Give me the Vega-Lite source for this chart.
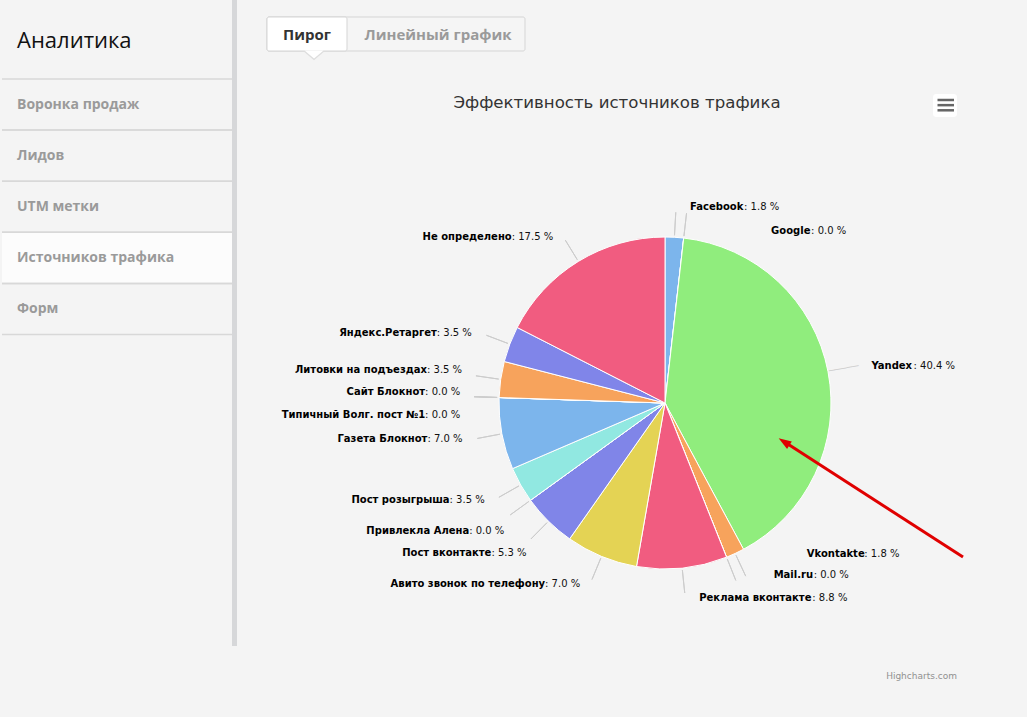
{
  "$schema": "https://vega.github.io/schema/vega-lite/v6.json",
  "background": "#f4f4f4",
  "padding": 0,
  "spacing": 0,
  "bounds": "flush",
  "resolve": {"scale": {"color": "independent"}},
  "config": {"view": {"stroke": null}, "concat": {"spacing": 0}, "font": "DejaVu Sans"},
  "hconcat": [
    {
      "width": 303,
      "height": 717,
      "layer": [
        {"data": {"values": [{"part": "bar"}]}, "mark": {"type": "rect", "color": "#d6d7d9"}, "encoding": {"x": {"value": 232}, "x2": {"value": 237}, "y": {"value": 0}, "y2": {"value": 646}}},
        {"data": {"values": [{"title": "Аналитика"}]}, "mark": {"type": "text", "align": "left", "baseline": "alphabetic", "font": "Open Sans", "fontSize": 22, "color": "#111111"}, "encoding": {"x": {"value": 17}, "y": {"value": 48}, "text": {"field": "title"}}},
        {
          "data": {"values": [{"item": "Воронка продаж"}, {"item": "Лидов"}, {"item": "UTM метки"}, {"item": "Источников трафика"}, {"item": "Форм"}]},
          "encoding": {"y": {"field": "item", "type": "nominal", "sort": null, "axis": null, "scale": {"range": [79, 334.5], "paddingInner": 0, "paddingOuter": 0}}},
          "layer": [
            {"mark": {"type": "rect", "color": "#fcfcfc", "opacity": {"expr": "datum.item === 'Источников трафика' ? 1 : 0"}}, "encoding": {"x": {"value": 2}, "x2": {"value": 232}}},
            {"mark": {"type": "rule", "color": "#d8d8d8", "strokeWidth": 1.5}, "encoding": {"x": {"value": 2}, "x2": {"value": 232}, "y": {"field": "item", "type": "nominal", "sort": null, "bandPosition": 0}}},
            {"mark": {"type": "rule", "color": "#d8d8d8", "strokeWidth": 1.5}, "encoding": {"x": {"value": 2}, "x2": {"value": 232}, "y": {"field": "item", "type": "nominal", "sort": null, "bandPosition": 1}}},
            {"mark": {"type": "text", "align": "left", "baseline": "middle", "font": "Open Sans", "fontSize": 14, "fontWeight": "bold", "color": "#9a9a9a"}, "encoding": {"x": {"value": 17}, "text": {"field": "item"}}}
          ]
        }
      ]
    },
    {
      "resolve": {"scale": {"color": "independent"}},
      "vconcat": [
        {
          "width": 724,
          "height": 120,
          "layer": [
            {"data": {"values": [{"tab": "Линейный график"}]}, "mark": {"type": "rect", "fill": "#f5f5f5", "stroke": "#d5d5d5", "strokeWidth": 1, "cornerRadius": 2}, "encoding": {"x": {"value": -36}, "x2": {"value": 222}, "y": {"value": 17}, "y2": {"value": 51}}},
            {"data": {"values": [{"tab": "Пирог"}]}, "mark": {"type": "rect", "fill": "#ffffff", "stroke": "#d5d5d5", "strokeWidth": 1, "cornerRadius": 2}, "encoding": {"x": {"value": -36}, "x2": {"value": 44}, "y": {"value": 17}, "y2": {"value": 51}}},
            {"data": {"values": [{"tab": "Пирог"}]}, "mark": {"type": "point", "shape": "M-1,-0.42L1,-0.42L0,0.42Z", "size": 400, "filled": true, "color": "#dedede", "opacity": 1}, "encoding": {"x": {"value": 11}, "y": {"value": 56}}},
            {"data": {"values": [{"tab": "Пирог"}]}, "mark": {"type": "point", "shape": "M-1,-0.42L1,-0.42L0,0.42Z", "size": 361, "filled": true, "color": "#ffffff", "opacity": 1}, "encoding": {"x": {"value": 11}, "y": {"value": 54.5}}},
            {"data": {"values": [{"tab": "Пирог"}, {"tab": "Линейный график"}]}, "mark": {"type": "text", "font": "Open Sans", "fontSize": 15, "fontWeight": "bold", "baseline": "middle", "align": "center", "color": {"expr": "datum.tab === 'Пирог' ? '#333333' : '#9a9a9a'"}}, "encoding": {"x": {"field": "tab", "type": "nominal", "axis": null, "scale": {"type": "point", "padding": 0, "domain": ["Пирог", "Линейный график"], "range": [4, 135]}}, "y": {"value": 35}, "text": {"field": "tab"}}},
            {"data": {"values": [{"title": "Эффективность источников трафика"}]}, "mark": {"type": "text", "font": "DejaVu Sans", "fontSize": 16.6, "color": "#333333", "align": "center", "baseline": "middle"}, "encoding": {"x": {"value": 314}, "y": {"value": 103}, "text": {"field": "title"}}},
            {"data": {"values": [{"button": "menu"}]}, "mark": {"type": "rect", "fill": "#ffffff", "cornerRadius": 3}, "encoding": {"x": {"value": 630}, "x2": {"value": 654}, "y": {"value": 94}, "y2": {"value": 117}}},
            {"data": {"values": [{"line": 1}, {"line": 2}, {"line": 3}]}, "mark": {"type": "rule", "color": "#666666", "strokeWidth": 2.5}, "encoding": {"x": {"value": 634.5}, "x2": {"value": 651}, "y": {"field": "line", "type": "ordinal", "axis": null, "scale": {"type": "point", "padding": 0, "range": [100, 110.3]}}}}
          ]
        },
        {
          "width": 724,
          "height": 566,
          "layer": [
            {
              "data": {"values": [
                {"name": "Facebook", "value": 1.8},
                {"name": "Google", "value": 0.0},
                {"name": "Yandex", "value": 40.4},
                {"name": "Vkontakte", "value": 1.8},
                {"name": "Mail.ru", "value": 0.0},
                {"name": "Реклама вконтакте", "value": 8.8},
                {"name": "Авито звонок по телефону", "value": 7.0},
                {"name": "Пост вконтакте", "value": 5.3},
                {"name": "Привлекла Алена", "value": 0.0},
                {"name": "Пост розыгрыша", "value": 3.5},
                {"name": "Газета Блокнот", "value": 7.0},
                {"name": "Типичный Волг. пост №1", "value": 0.0},
                {"name": "Сайт Блокнот", "value": 0.0},
                {"name": "Литовки на подъездах", "value": 3.5},
                {"name": "Яндекс.Ретаргет", "value": 3.5},
                {"name": "Не определено", "value": 17.5}
              ]},
              "transform": [{"window": [{"op": "row_number", "as": "i"}]}],
              "encoding": {
                "theta": {"field": "value", "type": "quantitative", "stack": true},
                "order": {"field": "i", "type": "quantitative"}
              },
              "layer": [
                {"mark": {"type": "arc", "outerRadius": 166, "stroke": "#ffffff", "strokeWidth": 1}, "encoding": {"color": {"field": "name", "type": "nominal", "legend": null, "scale": {"domain": ["Facebook", "Google", "Yandex", "Vkontakte", "Mail.ru", "Реклама вконтакте", "Авито звонок по телефону", "Пост вконтакте", "Привлекла Алена", "Пост розыгрыша", "Газета Блокнот", "Типичный Волг. пост №1", "Сайт Блокнот", "Литовки на подъездах", "Яндекс.Ретаргет", "Не определено"], "range": ["#7cb5ec", "#434348", "#90ed7d", "#f7a35c", "#8085e9", "#f15c80", "#e4d354", "#8085e8", "#8d4653", "#91e8e1", "#7cb5ec", "#434348", "#90ed7d", "#f7a35c", "#8085e9", "#f15c80"]}}}},
                {"mark": {"type": "arc", "outerRadius": 191, "innerRadius": 168, "padAngle": 0.934, "filled": false, "color": "#cccccc", "strokeWidth": 1, "strokeOpacity": {"expr": "datum.name === 'Yandex' ? 0 : 1"}}, "encoding": {"detail": {"field": "name"}}},
                {"mark": {"type": "text", "radius": 182, "angle": -10, "font": "DejaVu Sans", "fontSize": 10, "color": "#cccccc", "align": "center", "baseline": "middle", "text": {"expr": "datum.name === 'Yandex' ? '─────' : ''"}}, "encoding": {"detail": {"field": "name"}}},

                {"mark": {"type": "text", "radius": 196, "dx": 14, "dy": 0, "align": "left", "baseline": "middle", "font": "DejaVu Sans", "fontSize": 10, "fontWeight": "bold", "color": "#000000", "text": {"expr": "indexof(['Facebook','Yandex','Реклама вконтакте'], datum.name) >= 0 ? datum.name : ''"}}, "encoding": {"detail": {"field": "name"}}},
                {"mark": {"type": "text", "radius": 196, "dx": 68, "dy": 0, "align": "left", "baseline": "middle", "font": "DejaVu Sans", "fontSize": 10, "color": "#111111", "text": {"expr": "datum.name === 'Facebook' ? ': ' + format(datum.value, '.1f') + ' %' : ''"}}, "encoding": {"detail": {"field": "name"}}},
                {"mark": {"type": "text", "radius": 196, "dx": 56, "dy": 0, "align": "left", "baseline": "middle", "font": "DejaVu Sans", "fontSize": 10, "color": "#111111", "text": {"expr": "datum.name === 'Yandex' ? ': ' + format(datum.value, '.1f') + ' %' : ''"}}, "encoding": {"detail": {"field": "name"}}},
                {"mark": {"type": "text", "radius": 196, "dx": 127, "dy": 0, "align": "left", "baseline": "middle", "font": "DejaVu Sans", "fontSize": 10, "color": "#111111", "text": {"expr": "datum.name === 'Реклама вконтакте' ? ': ' + format(datum.value, '.1f') + ' %' : ''"}}, "encoding": {"detail": {"field": "name"}}},

                {"mark": {"type": "text", "radius": 196, "dx": 84, "dy": 23, "align": "left", "baseline": "middle", "font": "DejaVu Sans", "fontSize": 10, "fontWeight": "bold", "color": "#000000", "text": {"expr": "datum.name === 'Google' ? datum.name : ''"}}, "encoding": {"detail": {"field": "name"}}},
                {"mark": {"type": "text", "radius": 196, "dx": 124, "dy": 23, "align": "left", "baseline": "middle", "font": "DejaVu Sans", "fontSize": 10, "color": "#111111", "text": {"expr": "datum.name === 'Google' ? ': ' + format(datum.value, '.1f') + ' %' : ''"}}, "encoding": {"detail": {"field": "name"}}},

                {"mark": {"type": "text", "radius": 196, "dx": 59, "dy": -27, "align": "left", "baseline": "middle", "font": "DejaVu Sans", "fontSize": 10, "fontWeight": "bold", "color": "#000000", "text": {"expr": "datum.name === 'Vkontakte' ? datum.name : ''"}}, "encoding": {"detail": {"field": "name"}}},
                {"mark": {"type": "text", "radius": 196, "dx": 116.5, "dy": -27, "align": "left", "baseline": "middle", "font": "DejaVu Sans", "fontSize": 10, "color": "#111111", "text": {"expr": "datum.name === 'Vkontakte' ? ': ' + format(datum.value, '.1f') + ' %' : ''"}}, "encoding": {"detail": {"field": "name"}}},

                {"mark": {"type": "text", "radius": 196, "dx": 36, "dy": -10, "align": "left", "baseline": "middle", "font": "DejaVu Sans", "fontSize": 10, "fontWeight": "bold", "color": "#000000", "text": {"expr": "datum.name === 'Mail.ru' ? datum.name : ''"}}, "encoding": {"detail": {"field": "name"}}},
                {"mark": {"type": "text", "radius": 196, "dx": 76, "dy": -10, "align": "left", "baseline": "middle", "font": "DejaVu Sans", "fontSize": 10, "color": "#111111", "text": {"expr": "datum.name === 'Mail.ru' ? ': ' + format(datum.value, '.1f') + ' %' : ''"}}, "encoding": {"detail": {"field": "name"}}},

                {"mark": {"type": "text", "radius": 196, "dx": -45, "dy": 0, "align": "right", "baseline": "middle", "font": "DejaVu Sans", "fontSize": 10, "fontWeight": "bold", "color": "#000000", "text": {"expr": "indexof(['Авито звонок по телефону','Пост розыгрыша','Газета Блокнот','Яндекс.Ретаргет'], datum.name) >= 0 ? datum.name : ''"}}, "encoding": {"detail": {"field": "name"}}},
                {"mark": {"type": "text", "radius": 196, "dx": -45, "dy": 0, "align": "left", "baseline": "middle", "font": "DejaVu Sans", "fontSize": 10, "color": "#111111", "text": {"expr": "indexof(['Авито звонок по телефону','Пост розыгрыша','Газета Блокнот','Яндекс.Ретаргет'], datum.name) >= 0 ? ': ' + format(datum.value, '.1f') + ' %' : ''"}}, "encoding": {"detail": {"field": "name"}}},

                {"mark": {"type": "text", "radius": 196, "dx": -51, "dy": 1, "align": "right", "baseline": "middle", "font": "DejaVu Sans", "fontSize": 10, "fontWeight": "bold", "color": "#000000", "text": {"expr": "datum.name === 'Не определено' ? datum.name : ''"}}, "encoding": {"detail": {"field": "name"}}},
                {"mark": {"type": "text", "radius": 196, "dx": -51, "dy": 1, "align": "left", "baseline": "middle", "font": "DejaVu Sans", "fontSize": 10, "color": "#111111", "text": {"expr": "datum.name === 'Не определено' ? ': ' + format(datum.value, '.1f') + ' %' : ''"}}, "encoding": {"detail": {"field": "name"}}},

                {"mark": {"type": "text", "radius": 196, "dx": -36, "dy": 10, "align": "right", "baseline": "middle", "font": "DejaVu Sans", "fontSize": 10, "fontWeight": "bold", "color": "#000000", "text": {"expr": "datum.name === 'Пост вконтакте' ? datum.name : ''"}}, "encoding": {"detail": {"field": "name"}}},
                {"mark": {"type": "text", "radius": 196, "dx": -36, "dy": 10, "align": "left", "baseline": "middle", "font": "DejaVu Sans", "fontSize": 10, "color": "#111111", "text": {"expr": "datum.name === 'Пост вконтакте' ? ': ' + format(datum.value, '.1f') + ' %' : ''"}}, "encoding": {"detail": {"field": "name"}}},

                {"mark": {"type": "text", "radius": 196, "dx": -37, "dy": 13, "align": "right", "baseline": "middle", "font": "DejaVu Sans", "fontSize": 10, "fontWeight": "bold", "color": "#000000", "text": {"expr": "datum.name === 'Привлекла Алена' ? datum.name : ''"}}, "encoding": {"detail": {"field": "name"}}},
                {"mark": {"type": "text", "radius": 196, "dx": -37, "dy": 13, "align": "left", "baseline": "middle", "font": "DejaVu Sans", "fontSize": 10, "color": "#111111", "text": {"expr": "datum.name === 'Привлекла Алена' ? ': ' + format(datum.value, '.1f') + ' %' : ''"}}, "encoding": {"detail": {"field": "name"}}},

                {"mark": {"type": "text", "radius": 196, "dx": -44, "dy": 18, "align": "right", "baseline": "middle", "font": "DejaVu Sans", "fontSize": 10, "fontWeight": "bold", "color": "#000000", "text": {"expr": "datum.name === 'Типичный Волг. пост №1' ? datum.name : ''"}}, "encoding": {"detail": {"field": "name"}}},
                {"mark": {"type": "text", "radius": 196, "dx": -44, "dy": 18, "align": "left", "baseline": "middle", "font": "DejaVu Sans", "fontSize": 10, "color": "#111111", "text": {"expr": "datum.name === 'Типичный Волг. пост №1' ? ': ' + format(datum.value, '.1f') + ' %' : ''"}}, "encoding": {"detail": {"field": "name"}}},

                {"mark": {"type": "text", "radius": 196, "dx": -44, "dy": -5, "align": "right", "baseline": "middle", "font": "DejaVu Sans", "fontSize": 10, "fontWeight": "bold", "color": "#000000", "text": {"expr": "indexof(['Сайт Блокнот','Литовки на подъездах'], datum.name) >= 0 ? datum.name : ''"}}, "encoding": {"detail": {"field": "name"}}},
                {"mark": {"type": "text", "radius": 196, "dx": -44, "dy": -5, "align": "left", "baseline": "middle", "font": "DejaVu Sans", "fontSize": 10, "color": "#111111", "text": {"expr": "indexof(['Сайт Блокнот','Литовки на подъездах'], datum.name) >= 0 ? ': ' + format(datum.value, '.1f') + ' %' : ''"}}, "encoding": {"detail": {"field": "name"}}}
              ]
            },
            {"data": {"values": [{"credit": "Highcharts.com"}]}, "mark": {"type": "text", "align": "right", "baseline": "middle", "font": "DejaVu Sans", "fontSize": 9, "color": "#909090"}, "encoding": {"x": {"value": 654}, "y": {"value": 556}, "text": {"field": "credit"}}},
            {"data": {"values": [{"annotation": "arrow"}]}, "mark": {"type": "rule", "color": "#e00000", "strokeWidth": 3}, "encoding": {"x": {"value": 660}, "y": {"value": 437}, "x2": {"value": 484}, "y2": {"value": 323.6}}},
            {"data": {"values": [{"annotation": "arrowhead"}]}, "mark": {"type": "point", "shape": "M0,-1L0.55,0.6L-0.55,0.6Z", "size": 256, "angle": 302.6, "filled": true, "color": "#e00000", "opacity": 1}, "encoding": {"x": {"value": 482.4}, "y": {"value": 322.6}}}
          ]
        }
      ],
      "spacing": 0,
      "bounds": "flush"
    }
  ]
}
